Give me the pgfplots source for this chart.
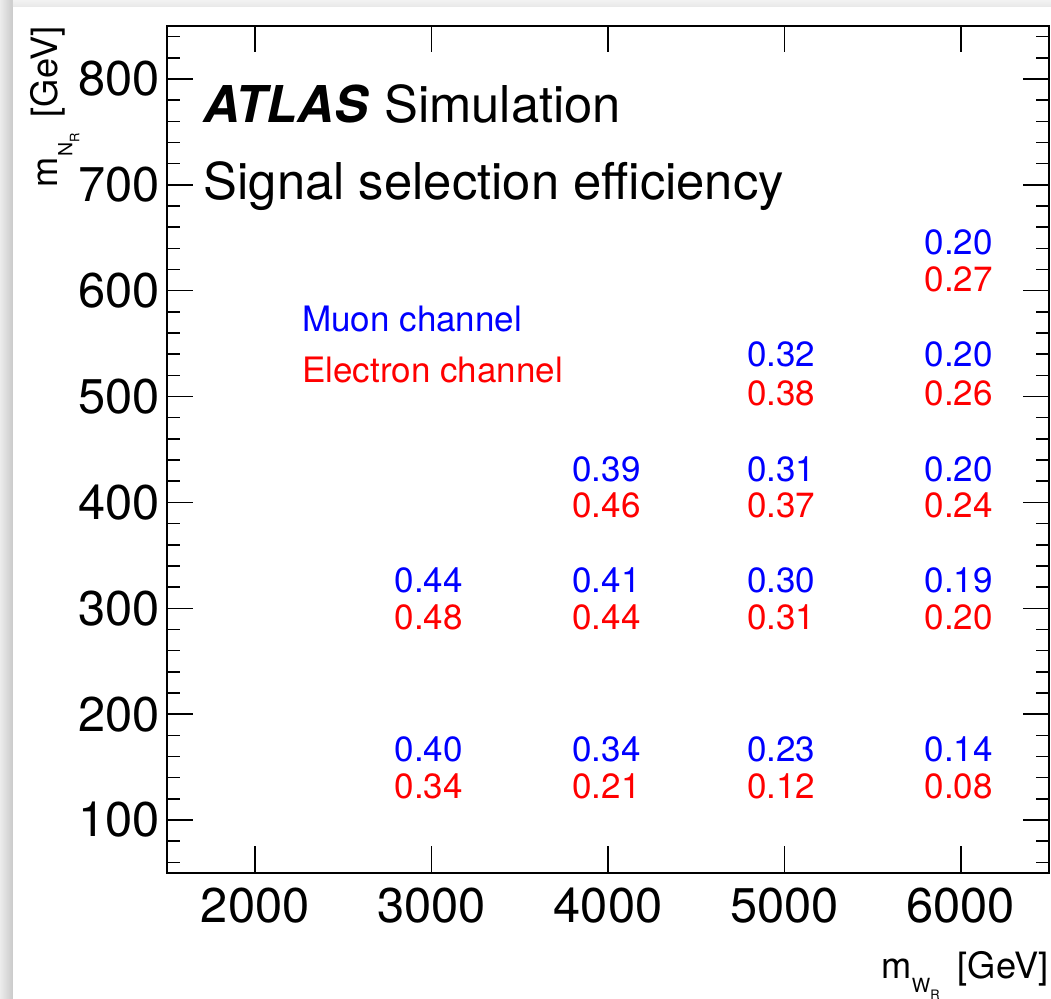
\documentclass[border=0pt]{standalone}
\usepackage{pgfplots}
\pgfplotsset{compat=1.18}
\usepackage{pgfplotstable}
\usepackage{fontspec}
\setmainfont{TeX Gyre Heros}

\definecolor{rootblue}{RGB}{0,0,255}
\definecolor{rootred}{RGB}{255,0,0}

\newcommand{\tickfont}{\fontsize{19.5}{21}\selectfont}
\newcommand{\titlefont}{\fontsize{20.3}{22}\selectfont}
\newcommand{\valfont}{\fontsize{14}{16}\selectfont}
\newcommand{\xlabfont}{\fontsize{14.5}{16}\selectfont}
\newcommand{\ylabfont}{\fontsize{14.5}{16}\selectfont}

% label positions (baselines) and efficiency values, muon channel
\pgfplotstableread{
x y label
2983 155 0.40
2983 315 0.44
3992 155 0.34
3992 315 0.41
3992 420 0.39
4982 155 0.23
4982 315 0.30
4982 420 0.31
4982 528 0.32
5988 155 0.14
5988 315 0.19
5988 420 0.20
5988 528 0.20
5988 634 0.20
}\muon

% electron channel
\pgfplotstableread{
x y label
2983 120 0.34
2983 280 0.48
3992 120 0.21
3992 280 0.44
3992 386 0.46
4982 120 0.12
4982 280 0.31
4982 386 0.37
4982 492 0.38
5988 120 0.08
5988 280 0.20
5988 386 0.24
5988 492 0.26
5988 599 0.27
}\electron

\begin{document}
\begin{tikzpicture}
\begin{axis}[
  scale only axis,
  width=352.8pt, height=338.8pt,
  xmin=1500, xmax=6500, ymin=50, ymax=850,
  xtick={2000,3000,4000,5000,6000},
  ytick={100,200,300,400,500,600,700,800},
  minor xtick={},
  minor ytick={60,80,...,840},
  xtick pos=both, ytick pos=both,
  xticklabel pos=lower, yticklabel pos=left,
  tick align=inside,
  major tick length=10.6pt, minor tick length=5.2pt,
  axis line style={line width=0.8pt},
  every tick/.style={black, line width=0.6pt},
  tick label style={font=\tickfont, inner sep=0pt},
  xticklabel style={yshift=-5.6pt},
  yticklabel style={xshift=-2.8pt},
  /pgf/number format/assume math mode=true,
  /pgf/number format/1000 sep={},
  scaled ticks=false,
  xlabel={m\raisebox{-0.4em}{\fontsize{7.8}{8}\selectfont W\raisebox{-0.35em}{\fontsize{5.2}{6}\selectfont R}}\hspace{0.5em}[GeV]},
  ylabel={m\raisebox{-0.4em}{\fontsize{7.8}{8}\selectfont N\raisebox{-0.35em}{\fontsize{5.2}{6}\selectfont R}}\hspace{0.45em}[GeV]},
  xlabel style={at={(axis description cs:1,-0.124)}, anchor=base east, font=\xlabfont, inner sep=0pt},
  ylabel style={at={(axis description cs:-0.1236,1)}, anchor=base east, font=\ylabfont, inner sep=0pt},
]
\addplot[only marks, mark=*, mark size=0pt, mark options={draw=none, fill=none},
  nodes near coords, point meta=explicit symbolic,
  every node near coord/.append style={anchor=base, inner sep=0pt, font=\valfont, text=rootblue}]
  table[x=x, y=y, meta=label] {\muon};
\addplot[only marks, mark=*, mark size=0pt, mark options={draw=none, fill=none},
  nodes near coords, point meta=explicit symbolic,
  every node near coord/.append style={anchor=base, inner sep=0pt, font=\valfont, text=rootred}]
  table[x=x, y=y, meta=label] {\electron};

\node[anchor=base west, inner sep=0pt, font=\titlefont] at (axis cs:1704,759.3) {\textbf{\textit{ATLAS}}\hspace{0.3em}Simulation};
\node[anchor=base west, inner sep=0pt, font=\titlefont] at (axis cs:1706,685.7) {Signal selection efficiency};
\node[anchor=base west, inner sep=0pt, font=\valfont, text=rootblue] at (axis cs:2264,561) {Muon channel};
\node[anchor=base west, inner sep=0pt, font=\valfont, text=rootred] at (axis cs:2264,513) {Electron channel};
\end{axis}

\fill[left color=gray!15, right color=gray!42]
  ([xshift=-66.8pt, yshift=-50.4pt]current axis.south west) rectangle ([xshift=-61.6pt, yshift=10.4pt]current axis.north west);
\fill[top color=gray!10, bottom color=gray!18]
  ([xshift=-61.6pt, yshift=7.6pt]current axis.north west) rectangle ([xshift=0.8pt, yshift=10.4pt]current axis.north east);

\pgfresetboundingbox
\path[use as bounding box] ([xshift=-66.8pt, yshift=-50.4pt]current axis.south west) rectangle ([xshift=0.8pt, yshift=10.4pt]current axis.north east);
\end{tikzpicture}
\end{document}
